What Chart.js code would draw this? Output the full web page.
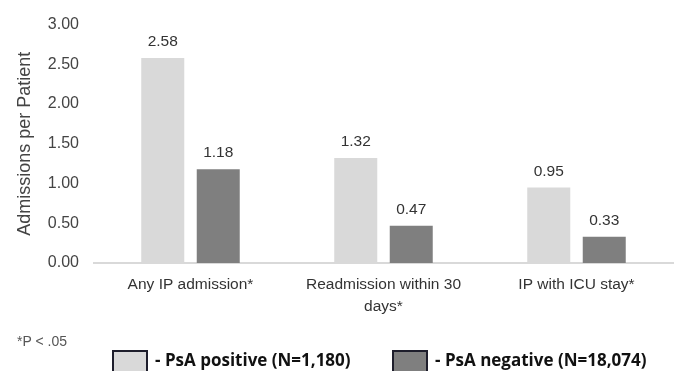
<!DOCTYPE html>
<html>
<head>
<meta charset="utf-8">
<script src="https://cdn.jsdelivr.net/npm/chart.js@4/dist/chart.umd.min.js"></script>
<style>
  html, body { margin: 0; padding: 0; background: #fff; }
  #wrap { position: relative; width: 674px; height: 371px; overflow: hidden; }
  #c { position: absolute; left: 0; top: 0; }
  #note { position: absolute; left: 17px; top: 333px; font: 14px "Liberation Sans", Arial, sans-serif; line-height: 16px; color: #555; }
  .leg { position: absolute; top: 350px; display: flex; align-items: flex-start; }
  .leg .box { width: 32px; height: 24px; border: 2px solid #1e1e2c; box-sizing: content-box; }
  .leg .txt { margin-left: 7px; margin-top: -1px; font: 700 17px "Open Sans", sans-serif; color: #111; white-space: nowrap; line-height: 22px; }
</style>
</head>
<body>
<div id="wrap">
  <canvas id="c" width="674" height="371"></canvas>
  <div id="note">*P &lt; .05</div>
</div>
<script>
// Categories, series and axis ticks
const categories = [["Any IP admission*"], ["Readmission within 30", "days*"], ["IP with ICU stay*"]];
const seriesNames = ["PsA positive (N=1,180)", "PsA negative (N=18,074)"];
const psaPositive = [2.58, 1.32, 0.95];
const psaNegative = [1.18, 0.47, 0.33];
const yTicks = [0, 0.5, 1.0, 1.5, 2.0, 2.5, 3.0];
const seriesColors = ["#d9d9d9", "#7f7f7f"];
const legendLeft = [112, 392];
const fontFamily = "'Liberation Sans', Arial, sans-serif";

// Value labels above each bar
const valueLabels = {
  id: "valueLabels",
  afterDatasetsDraw(chart) {
    const ctx = chart.ctx;
    ctx.save();
    ctx.font = "15.5px " + fontFamily;
    ctx.fillStyle = "#333";
    ctx.textAlign = "center";
    ctx.textBaseline = "alphabetic";
    chart.data.datasets.forEach((ds, i) => {
      chart.getDatasetMeta(i).data.forEach((bar, j) => {
        ctx.fillText(ds.data[j].toFixed(2), bar.x, bar.y - 12);
      });
    });
    ctx.restore();
  }
};

new Chart(document.getElementById("c"), {
  type: "bar",
  data: {
    labels: categories,
    datasets: [
      { label: seriesNames[0], data: psaPositive, backgroundColor: seriesColors[0] },
      { label: seriesNames[1], data: psaNegative, backgroundColor: seriesColors[1] }
    ]
  },
  options: {
    responsive: false,
    animation: false,
    events: [],
    layout: { padding: { top: 20, right: 1, left: 0, bottom: 0 } },
    categoryPercentage: 0.575,
    barPercentage: 0.775,
    plugins: { legend: { display: false }, tooltip: { enabled: false } },
    scales: {
      x: {
        grid: { display: false, drawTicks: false },
        border: { display: true, color: "#d9d9d9", width: 2 },
        ticks: {
          padding: 11,
          color: "#333",
          font: { family: fontFamily, size: 15.5, lineHeight: 1.4 },
          maxRotation: 0, autoSkip: false
        },
        afterFit(scale) { scale.height = 108; }
      },
      y: {
        min: 0, max: 3,
        afterBuildTicks(scale) { scale.ticks = yTicks.map(v => ({ value: v })); },
        grid: { display: false, drawTicks: false },
        border: { display: false },
        ticks: {
          padding: 15,
          color: "#444",
          font: { family: fontFamily, size: 16 },
          callback: v => Number(v).toFixed(2)
        },
        title: {
          display: true,
          text: "Admissions per Patient",
          color: "#444",
          padding: { top: 14, bottom: 0 },
          font: { family: fontFamily, size: 18 }
        },
        afterFit(scale) { scale.width = 94; }
      }
    }
  },
  plugins: [valueLabels]
});

// Series key along the bottom
const wrap = document.getElementById("wrap");
seriesNames.forEach((name, i) => {
  const item = document.createElement("div");
  item.className = "leg";
  item.style.left = legendLeft[i] + "px";
  const box = document.createElement("div");
  box.className = "box";
  box.style.background = seriesColors[i];
  const txt = document.createElement("div");
  txt.className = "txt";
  txt.textContent = "- " + name;
  item.appendChild(box);
  item.appendChild(txt);
  wrap.appendChild(item);
});
</script>
</body>
</html>
